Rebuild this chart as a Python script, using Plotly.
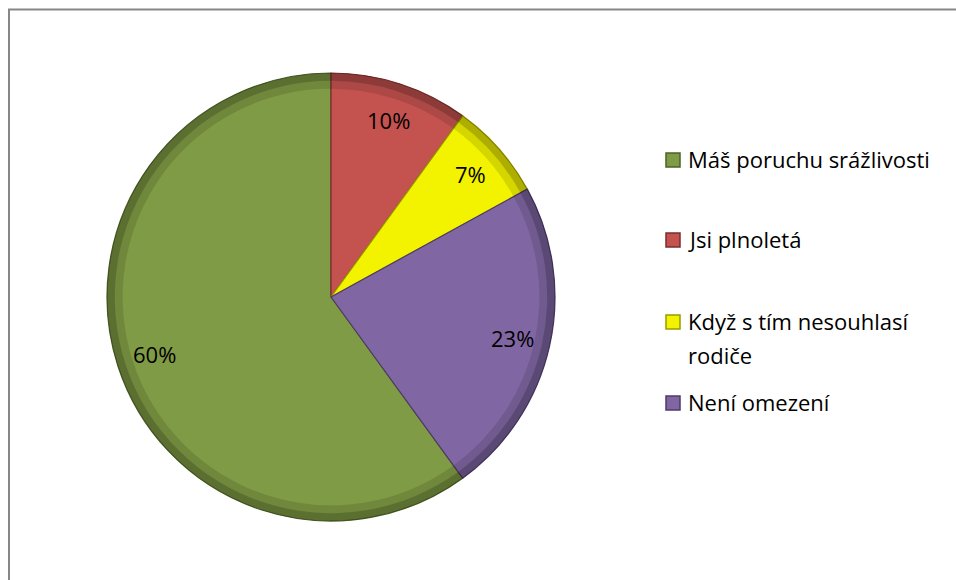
import math
import plotly.graph_objects as go

# Survey answers and their shares (percent)
labels = ["Máš poruchu srážlivosti", "Jsi plnoletá", "Když s tím nesouhlasí rodiče", "Není omezení"]
legend_lines = [["Máš poruchu srážlivosti"], ["Jsi plnoletá"], ["Když s tím nesouhlasí", "rodiče"], ["Není omezení"]]
values = [60, 10, 7, 23]
colors = ["#809B45", "#C4524F", "#F3F300", "#8067A3"]
edge_colors = ["#4E6127", "#7A2E2C", "#9A9A00", "#4D3B66"]

W, H = 956, 580
FONT = "'Open Sans', Lato, sans-serif"

# pie geometry in pixels
cx, cy, r = 331, 297, 224
rotation = 144  # first slice (green) starts at 144° clockwise from 12 o'clock

dom_x = [(cx - r) / W, (cx + r) / W]
dom_y = [(H - cy - r) / H, (H - cy + r) / H]

fig = go.Figure()

fig.add_trace(go.Pie(
    labels=labels, values=values, sort=False, direction="clockwise",
    rotation=rotation, domain=dict(x=dom_x, y=dom_y),
    marker=dict(colors=colors, line=dict(color=edge_colors, width=1.2)),
    textinfo="none", showlegend=False, hoverinfo="label+percent",
))

# darker rims, stacked so the edge darkens towards the outside
for hole, alpha in [(0.93, 0.12), (0.965, 0.18)]:
    fig.add_trace(go.Pie(
        labels=labels, values=values, sort=False, direction="clockwise",
        rotation=rotation, domain=dict(x=dom_x, y=dom_y), hole=hole,
        marker=dict(colors=[f"rgba(0,0,0,{alpha})"] * 4, line=dict(width=0)),
        textinfo="none", showlegend=False, hoverinfo="skip",
    ))

annotations = []
shapes = []

# percent labels placed along each slice's mid angle
total = sum(values)
start = rotation
for v in values:
    span = 360 * v / total
    mid = math.radians(start + span / 2)
    px = cx + 0.83 * r * math.sin(mid)
    py = cy - 0.83 * r * math.cos(mid)
    annotations.append(dict(
        x=px / W, y=1 - py / H, xref="paper", yref="paper",
        text=f"{round(100 * v / total)}%", showarrow=False,
        font=dict(family=FONT, size=22, color="#000000"),
        xanchor="center", yanchor="middle",
    ))
    start += span

# legend drawn as swatches + text; baselines in pixels
legend_baselines = [167, 247, 329, 410]
line_step = 34
for lines, col, edge, base in zip(legend_lines, colors, edge_colors, legend_baselines):
    shapes.append(dict(
        type="rect", xref="paper", yref="paper",
        x0=666 / W, x1=680 / W,
        y0=1 - base / H, y1=1 - (base - 14) / H,
        fillcolor=col, line=dict(color=edge, width=1.5),
    ))
    for k, txt in enumerate(lines):
        annotations.append(dict(
            x=686 / W, y=1 - (base + k * line_step - 8) / H, xref="paper", yref="paper",
            text=txt, showarrow=False, align="left",
            font=dict(family=FONT, size=22, color="#000000"),
            xanchor="left", yanchor="middle",
        ))

# chart frame
shapes.append(dict(
    type="rect", xref="paper", yref="paper",
    x0=9 / W, x1=1.02, y0=-0.02, y1=1 - 9.5 / H,
    line=dict(color="#878787", width=2), fillcolor="rgba(0,0,0,0)",
))

fig.update_layout(
    width=W, height=H,
    margin=dict(l=0, r=0, t=0, b=0),
    paper_bgcolor="#FFFFFF", plot_bgcolor="#FFFFFF",
    showlegend=False,
    annotations=annotations, shapes=shapes,
    font=dict(family=FONT),
)

fig.write_html("out.html")
